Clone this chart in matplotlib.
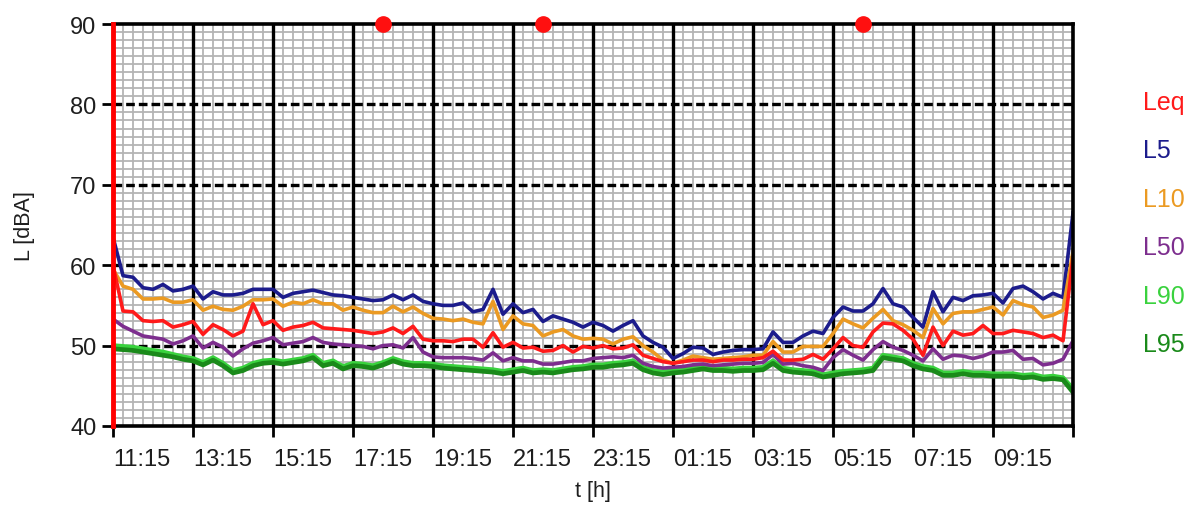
import numpy as np
import pandas as pd
import matplotlib
matplotlib.use("Agg")
import matplotlib.pyplot as plt
from matplotlib.ticker import MultipleLocator

plt.rcParams['font.family'] = ['Liberation Sans', 'DejaVu Sans']

# 15 minute levels over 24 h, dBA
times = pd.date_range("2021-06-01 11:15", periods=97, freq="15min")

leq = [60.0, 54.3, 54.2, 53.1, 53.0, 53.1, 52.3, 52.6, 53.0, 51.4,
       52.6, 52.0, 51.2, 51.8, 55.2, 52.6, 53.1, 51.9, 52.3, 52.5,
       52.9, 52.2, 52.1, 52.0, 51.9, 51.7, 51.5, 51.7, 52.2, 51.5,
       52.4, 50.8, 50.6, 50.6, 50.5, 50.8, 50.8, 49.8, 51.6, 49.8,
       50.4, 49.7, 49.8, 49.3, 49.4, 50.0, 49.2, 49.9, 49.7, 50.0,
       49.6, 49.7, 50.1, 48.8, 48.4, 48.0, 47.8, 48.0, 48.2, 48.2,
       48.0, 48.2, 48.2, 48.3, 48.3, 48.5, 49.3, 48.2, 48.2, 48.3,
       48.9, 48.3, 49.6, 51.0, 50.0, 49.8, 51.7, 52.8, 52.7, 51.9,
       50.8, 48.8, 52.3, 50.0, 51.8, 51.3, 51.5, 52.5, 51.5, 51.5,
       51.9, 51.7, 51.5, 51.0, 51.3, 50.6, 61.0]

l5 = [63.5, 58.7, 58.5, 57.2, 57.0, 57.6, 56.8, 57.0, 57.4, 55.8,
      56.7, 56.3, 56.3, 56.5, 57.0, 57.0, 57.0, 56.0, 56.5, 56.7,
      56.9, 56.6, 56.3, 56.2, 56.0, 55.8, 55.6, 55.7, 56.3, 55.7,
      56.3, 55.5, 55.2, 55.0, 55.0, 55.3, 54.2, 54.5, 57.0, 53.9,
      55.2, 54.1, 54.5, 53.0, 53.7, 53.3, 52.9, 52.3, 52.9, 52.5,
      51.8, 52.5, 53.1, 51.2, 50.4, 49.8, 48.4, 49.0, 49.8, 49.7,
      48.9, 49.2, 49.4, 49.5, 49.5, 49.6, 51.7, 50.4, 50.4, 51.2,
      51.8, 51.5, 53.5, 54.8, 54.3, 54.3, 55.2, 57.1, 55.2, 54.8,
      53.5, 52.3, 56.7, 54.2, 56.0, 55.6, 56.2, 56.3, 56.5, 55.3,
      57.1, 57.4, 56.7, 55.8, 56.5, 56.0, 66.5]

l10 = [59.5, 57.4, 57.0, 55.8, 55.8, 55.9, 55.4, 55.4, 55.7, 54.4,
       54.9, 54.5, 54.4, 54.9, 55.7, 55.7, 55.8, 54.9, 55.4, 55.2,
       55.7, 55.2, 55.2, 54.4, 54.8, 54.4, 54.1, 54.1, 54.9, 54.2,
       54.8, 54.0, 53.4, 53.3, 53.1, 53.3, 52.9, 52.7, 55.5, 52.0,
       53.7, 52.7, 52.5, 51.2, 51.7, 52.0, 51.2, 50.8, 50.9, 50.8,
       50.2, 50.8, 51.1, 50.0, 49.2, 48.2, 47.8, 48.2, 48.7, 48.5,
       48.3, 48.4, 48.5, 48.6, 48.8, 48.8, 50.5, 49.2, 49.2, 49.9,
       49.9, 49.9, 51.5, 53.3, 52.7, 52.2, 53.4, 54.5, 53.1, 52.6,
       51.9, 51.0, 54.6, 52.7, 54.0, 54.2, 54.2, 54.5, 54.8, 53.8,
       55.6, 55.1, 54.8, 53.5, 53.8, 54.4, 61.7]

l50 = [53.3, 52.4, 51.8, 51.2, 51.0, 50.8, 50.2, 50.6, 51.2, 49.7,
       50.4, 49.8, 48.7, 49.6, 50.3, 50.6, 51.0, 50.1, 50.3, 50.5,
       51.0, 50.4, 50.2, 50.1, 50.0, 49.9, 49.6, 50.0, 50.1, 49.7,
       51.0, 49.2, 48.6, 48.5, 48.5, 48.5, 48.4, 48.2, 49.1, 48.1,
       48.5, 48.1, 48.1, 47.7, 47.7, 47.9, 48.1, 48.1, 48.4, 48.5,
       48.6, 48.5, 48.8, 47.8, 47.4, 47.2, 47.3, 47.4, 47.6, 47.7,
       47.5, 47.6, 47.7, 47.8, 47.8, 47.9, 48.9, 47.7, 47.8, 47.5,
       47.3, 46.9, 48.5, 49.5, 48.8, 48.2, 49.5, 50.5, 49.8, 49.4,
       48.8, 48.1, 49.6, 48.3, 48.8, 48.7, 48.4, 48.7, 49.2, 49.2,
       49.4, 48.3, 48.4, 47.6, 47.8, 48.3, 50.6]

l90 = [50.0, 49.9, 49.8, 49.6, 49.4, 49.2, 48.9, 48.6, 48.4, 47.9,
       48.5, 47.8, 46.9, 47.2, 47.8, 48.1, 48.2, 48.0, 48.2, 48.4,
       48.8, 47.8, 48.1, 47.4, 47.8, 47.7, 47.5, 47.9, 48.4, 48.0,
       47.8, 47.8, 47.7, 47.5, 47.4, 47.3, 47.2, 47.1, 47.0, 46.8,
       47.0, 47.2, 46.9, 47.0, 46.9, 47.1, 47.3, 47.4, 47.6, 47.6,
       47.8, 47.9, 48.1, 47.3, 46.9, 46.7, 46.9, 47.0, 47.2, 47.4,
       47.2, 47.2, 47.1, 47.2, 47.2, 47.3, 48.1, 47.2, 47.0, 46.9,
       46.8, 46.4, 46.6, 46.8, 46.9, 47.0, 47.2, 48.8, 48.6, 48.4,
       47.8, 47.4, 47.2, 46.6, 46.6, 46.8, 46.6, 46.6, 46.5, 46.5,
       46.5, 46.3, 46.4, 46.1, 46.2, 46.0, 44.6]

l95 = [49.6, 49.5, 49.4, 49.2, 49.0, 48.8, 48.6, 48.3, 48.1, 47.6,
       48.2, 47.5, 46.6, 46.9, 47.5, 47.8, 47.9, 47.7, 47.9, 48.1,
       48.5, 47.5, 47.8, 47.1, 47.5, 47.4, 47.2, 47.6, 48.1, 47.7,
       47.5, 47.5, 47.4, 47.2, 47.1, 47.0, 46.9, 46.8, 46.7, 46.5,
       46.7, 46.9, 46.6, 46.7, 46.6, 46.8, 47.0, 47.1, 47.3, 47.3,
       47.5, 47.6, 47.8, 47.0, 46.6, 46.4, 46.6, 46.7, 46.9, 47.1,
       46.9, 46.9, 46.8, 46.9, 46.9, 47.0, 47.8, 46.9, 46.7, 46.6,
       46.5, 46.1, 46.3, 46.5, 46.6, 46.7, 46.9, 48.5, 48.3, 48.1,
       47.5, 47.1, 46.9, 46.3, 46.3, 46.5, 46.3, 46.3, 46.2, 46.2,
       46.2, 46.0, 46.1, 45.8, 45.9, 45.75, 44.2]

names = ["Leq", "L5", "L10", "L50", "L90", "L95"]
colors = ["#ff1a1a", "#1c1c8c", "#eb9a22", "#7d2e8e", "#3ad23e", "#1a8a1a"]
series = [leq, l5, l10, l50, l90, l95]

# period markers on the top edge
marks = pd.to_datetime(["2021-06-01 18:00", "2021-06-01 22:00", "2021-06-02 06:00"])
mark_level = [90, 90, 90]

fig = plt.figure(figsize=(11.89, 5.06), dpi=100)
ax = fig.add_axes([113 / 1189, 1 - 427 / 506, 960 / 1189, 402 / 506])
ax.set_axisbelow(True)

# fine grid underneath, heavy lines on the 2 h / 10 dB steps above it
ax.grid(which="minor", color="#b4b4b4", lw=1.3)
for t in times[::8][1:]:
    ax.axvline(t, color="black", lw=2.4, zorder=1.5)
for lev in range(50, 90, 10):
    ax.axhline(lev, color="black", lw=2.4, ls=(0, (2.6, 1.2)), zorder=1.5)

# lower levels first
for k in [4, 5, 3, 1, 2, 0]:
    lw = 3.4 if k >= 4 else 2.6
    ax.plot(times, series[k], color=colors[k], lw=lw, zorder=3,
            solid_joinstyle="round")

ax.plot(marks, mark_level, "o", color="#ff1010", ms=11, clip_on=False, zorder=6)

ax.set_xlim(times[0], times[-1])
ax.set_ylim(40, 90)
ax.yaxis.set_major_locator(MultipleLocator(10))
ax.yaxis.set_minor_locator(MultipleLocator(1))
ax.set_xticks(times[::8])
ax.set_xticks(times, minor=True)
ax.set_xticklabels([t.strftime("%H:%M") if i < 12 else "" for i, t in enumerate(times[::8])],
                   ha="left")

ax.tick_params(which="minor", length=0)
ax.tick_params(which="major", length=8, width=2, color="black",
               labelsize=17, labelcolor="#1e1e1e")
ax.tick_params(axis="x", pad=8)
ax.tick_params(axis="y", pad=4)

for side in ["top", "right", "bottom"]:
    ax.spines[side].set_linewidth(2.6)
    ax.spines[side].set_color("black")
    ax.spines[side].set_zorder(4)
ax.spines["left"].set_linewidth(3.5)
ax.spines["left"].set_color("#ff0000")
ax.spines["left"].set_zorder(5)

ax.set_ylabel("L [dBA]", fontsize=15.5, color="#1e1e1e")
ax.yaxis.set_label_coords(-0.081, 0.5)
ax.set_xlabel("t [h]", fontsize=15.5, color="#1e1e1e")
ax.xaxis.set_label_coords(0.5, -0.135)

# level names to the right of the plot
for k, name in enumerate(names):
    fig.text(1143 / 1189, 1 - (103 + 48.5 * k) / 506, name, color=colors[k],
             fontsize=18, va="center", ha="left")

fig.savefig("out.png", dpi=100, facecolor="white")
